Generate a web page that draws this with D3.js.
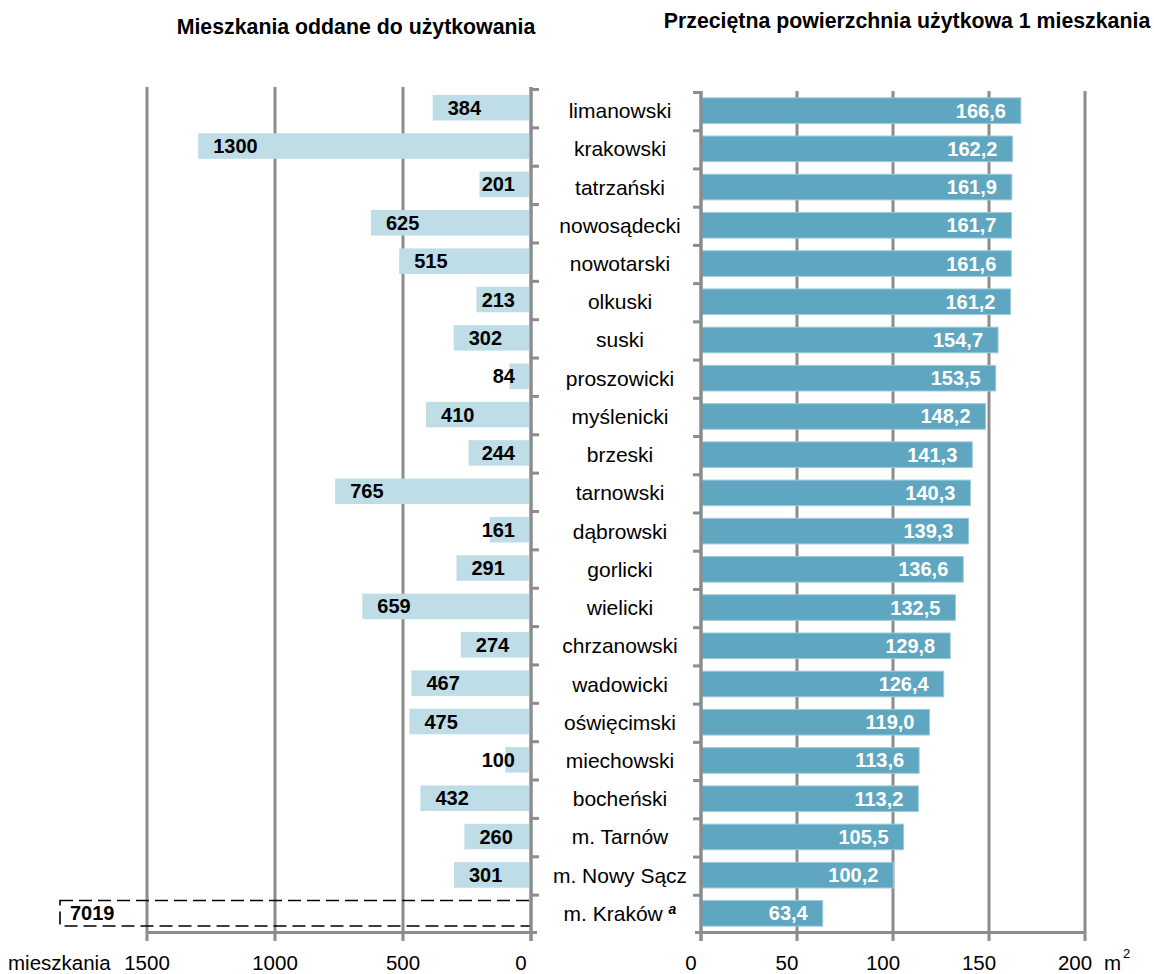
<!DOCTYPE html>
<html>
<head>
<meta charset="utf-8">
<script src="https://cdn.jsdelivr.net/npm/d3@7"></script>
<style>
  html, body { margin: 0; padding: 0; background: #fff; }
  svg { display: block; font-family: "Liberation Sans", Arial, sans-serif; }
</style>
</head>
<body>
<svg id="chart" width="1154" height="974"></svg>
<script>
// ---- data ----
const categories = ["limanowski","krakowski","tatrzański","nowosądecki","nowotarski","olkuski","suski","proszowicki","myślenicki","brzeski","tarnowski","dąbrowski","gorlicki","wielicki","chrzanowski","wadowicki","oświęcimski","miechowski","bocheński","m. Tarnów","m. Nowy Sącz","m. Kraków"];
const dwellings = [384,1300,201,625,515,213,302,84,410,244,765,161,291,659,274,467,475,100,432,260,301,7019];
const avgArea = [166.6,162.2,161.9,161.7,161.6,161.2,154.7,153.5,148.2,141.3,140.3,139.3,136.6,132.5,129.8,126.4,119.0,113.6,113.2,105.5,100.2,63.4];
const leftTicks = [0,500,1000,1500];
const rightTicks = [0,50,100,150,200];
const leftTitle = "Mieszkania oddane do użytkowania";
const rightTitle = "Przeciętna powierzchnia użytkowa 1 mieszkania";
const leftUnit = "mieszkania";
const rightUnit = "m";
const footnoteMark = "a";

// ---- layout ----
const svg = d3.select("#chart");
const gridColor = "#8c8c8c";
const lightBar = "#bedde6";
const darkBar = "#5fa7c1";
const axisY = 932.5;
const tickLabelY = 970;

const xL = d3.scaleLinear().domain([0, 1500]).range([531, 147]);
const xR = d3.scaleLinear().domain([0, 200]).range([701, 1085]);
const yL = d3.scaleBand().domain(categories).range([88.5, 932.5]).paddingInner(0.335).paddingOuter(0.1675);
const yR = d3.scaleBand().domain(categories).range([91.5, 932.5]).paddingInner(0.33).paddingOuter(0.165);
const fmt = v => d3.format(".1f")(v).replace(".", ",");

// gridlines
svg.append("g").selectAll("line").data(leftTicks).join("line")
  .attr("x1", d => xL(d)).attr("x2", d => xL(d))
  .attr("y1", 87).attr("y2", 941)
  .attr("stroke", gridColor).attr("stroke-width", 3);
svg.append("g").selectAll("line").data(rightTicks).join("line")
  .attr("x1", d => xR(d)).attr("x2", d => xR(d))
  .attr("y1", 91).attr("y2", 941)
  .attr("stroke", gridColor).attr("stroke-width", 3);

// bottom axis lines
svg.append("line").attr("x1", xL(1500)).attr("x2", xL(0) + 6).attr("y1", axisY).attr("y2", axisY)
  .attr("stroke", gridColor).attr("stroke-width", 3);
svg.append("line").attr("x1", xR(0) - 6).attr("x2", xR(200)).attr("y1", axisY).attr("y2", axisY)
  .attr("stroke", gridColor).attr("stroke-width", 3);

// left bars
const leftData = categories.map((c, i) => ({c, v: dwellings[i]}));
const maxL = xL.domain()[1];
const inRange = leftData.filter(d => d.v <= maxL);
const outRange = leftData.filter(d => d.v > maxL);

svg.append("g").selectAll("rect").data(inRange).join("rect")
  .attr("x", d => xL(d.v)).attr("width", d => xL(0) - xL(d.v))
  .attr("y", d => yL(d.c)).attr("height", yL.bandwidth())
  .attr("fill", lightBar);

// out-of-range (broken) bar: dashed outline
const boxLeft = xL(maxL) - 87;
svg.append("g").selectAll("rect").data(outRange).join("rect")
  .attr("x", boxLeft).attr("width", xL(0) - boxLeft)
  .attr("y", d => yL(d.c)).attr("height", yL.bandwidth())
  .attr("fill", "none").attr("stroke", "#000").attr("stroke-width", 1.6)
  .attr("stroke-dasharray", "13,6");

// left labels
const lblL = svg.append("g").selectAll("text").data(leftData).join("text")
  .attr("y", d => yL(d.c) + yL.bandwidth() / 2 + 7)
  .attr("font-size", 20).attr("font-weight", "bold").attr("fill", "#000")
  .text(d => d.v);
lblL.each(function(d) {
  const w = this.getComputedTextLength();
  let x;
  if (d.v > maxL) x = boxLeft + 10;
  else x = Math.min(xL(d.v) + 15, 515 - w);
  d3.select(this).attr("x", x);
});

// right bars
const rightData = categories.map((c, i) => ({c, v: avgArea[i]}));
svg.append("g").selectAll("rect").data(rightData).join("rect")
  .attr("x", xR(0)).attr("width", d => xR(d.v) - xR(0))
  .attr("y", d => yR(d.c)).attr("height", yR.bandwidth())
  .attr("fill", darkBar).attr("stroke", "#9ccadb").attr("stroke-width", 1);
svg.append("g").selectAll("text").data(rightData).join("text")
  .attr("x", d => xR(d.v) - 15)
  .attr("y", d => yR(d.c) + yR.bandwidth() / 2 + 7)
  .attr("text-anchor", "end").attr("font-size", 20).attr("font-weight", "bold").attr("fill", "#fff")
  .text(d => fmt(d.v));

// category axes (vertical lines with ticks at band boundaries)
const bL = categories.map(c => yL(c) - yL.step() * yL.paddingInner() / 2);
const bR = categories.map(c => yR(c) - yR.step() * yR.paddingInner() / 2);
svg.append("line").attr("x1", xL(0)).attr("x2", xL(0)).attr("y1", 87).attr("y2", 941)
  .attr("stroke", gridColor).attr("stroke-width", 3);
svg.append("g").selectAll("line").data(bL).join("line")
  .attr("x1", xL(0)).attr("x2", xL(0) + 8).attr("y1", d => d + 1).attr("y2", d => d + 1)
  .attr("stroke", gridColor).attr("stroke-width", 3);
svg.append("line").attr("x1", xR(0)).attr("x2", xR(0)).attr("y1", 91).attr("y2", 941)
  .attr("stroke", gridColor).attr("stroke-width", 3);
svg.append("g").selectAll("line").data(bR).join("line")
  .attr("x1", xR(0) - 8).attr("x2", xR(0)).attr("y1", d => d + 1).attr("y2", d => d + 1)
  .attr("stroke", gridColor).attr("stroke-width", 3);

// category labels
const midX = (xL(0) + xR(0)) / 2 + 4;
const cat = svg.append("g").selectAll("text").data(categories).join("text")
  .attr("x", midX).attr("y", d => yR(d) + yR.bandwidth() / 2 + 7.5)
  .attr("text-anchor", "middle").attr("font-size", 21).attr("fill", "#000");
cat.each(function(d, i) {
  const t = d3.select(this);
  t.append("tspan").text(d);
  if (i === categories.length - 1) {
    t.append("tspan").text(" ");
    t.append("tspan").text(footnoteMark).attr("font-size", 14).attr("font-weight", "bold")
      .attr("font-style", "italic").attr("dy", -7);
  }
});

// tick labels
svg.append("g").selectAll("text").data(leftTicks).join("text")
  .attr("x", d => xL(d) - (d === 0 ? 10 : 0)).attr("y", tickLabelY)
  .attr("text-anchor", "middle").attr("font-size", 20.5).text(d => d);
svg.append("g").selectAll("text").data(rightTicks).join("text")
  .attr("x", d => xR(d) - 10).attr("y", tickLabelY)
  .attr("text-anchor", "middle").attr("font-size", 20.5).text(d => d);
svg.append("text").attr("x", 8).attr("y", tickLabelY).attr("font-size", 20.5).text(leftUnit);
const mu = svg.append("text").attr("x", xR(200) + 19).attr("y", tickLabelY).attr("font-size", 20.5);
mu.append("tspan").text(rightUnit);
mu.append("tspan").text("2").attr("font-size", 13).attr("dy", -12).attr("dx", 2);

// titles
svg.append("text").attr("x", 356).attr("y", 34).attr("text-anchor", "middle")
  .attr("font-size", 21.3).attr("font-weight", "bold").text(leftTitle);
svg.append("text").attr("x", 907).attr("y", 28).attr("text-anchor", "middle")
  .attr("font-size", 21.3).attr("font-weight", "bold").text(rightTitle);
</script>
</body>
</html>
